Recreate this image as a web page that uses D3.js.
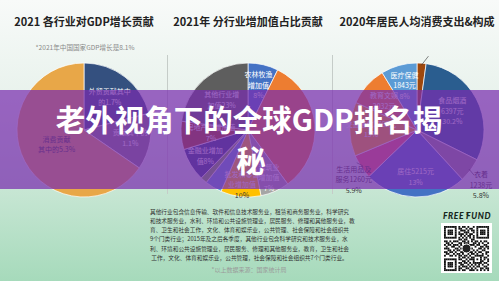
<!DOCTYPE html>
<html>
<head>
<meta charset="utf-8">
<script src="https://cdn.jsdelivr.net/npm/d3@7"></script>
<style>
  body { margin: 0; }
  svg { display: block; }
</style>
</head>
<body>
<div id="chart"></div>
<script>
// ---- data ----
var gdpCats = ["外贸", "投资", "消费"];
var gdpValues = [1.7, 1.1, 5.3];
var gdpLabels = [["外贸贡献其中", "的1.7%"], ["贡献其中的", "1.1%"], ["消费贡献", "其中的5.3%"]];

var industryCats = ["农林牧渔", "工业", "建筑业", "批发和零售业", "交通运输", "住宿餐饮", "金融业", "房地产业", "其他行业"];
var industryValues = [7.3, 32.6, 7.0, 9.7, 4.1, 1.6, 8.0, 6.8, 22.9];
var industryLabels = [["农林牧渔", "增加值", "8%"], [], ["建筑业", "增加值", "7%"], ["批发和零售", "业增加值", "10%"], [], [], ["金融业增加", "值8%"], ["房地产业增加值", "7%"], ["其他行业增", "加值23%"]];

var spendCats = ["其他", "食品烟酒", "衣着", "居住", "生活用品及服务", "交通通信", "教育文娱", "医疗保健"];
var spendValues = [462, 6397, 1238, 5215, 1260, 2762, 2032, 1843];
var spendLabels = [["其他462元", "2.2%"], ["食品烟酒", "6397元", "30.2%"], ["衣着", "1238元", "5.8%"], ["居住5215元", "13%"], ["生活用品及", "服务1260元", "5.9%"], ["交通通信2762元", "13%"], ["教育文娱", "2032元"], ["医疗保健", "1843元", "8%"]];

var titles = ["2021 各行业对GDP增长贡献", "2021年 分行业增加值占比贡献", "2020年居民人均消费支出&构成"];
var noteLines = [
  "其他行业包含信息传输、软件和信息技术服务业，租赁和商务服务业，科学研究",
  "和技术服务业，水利、环境和公共设施管理业，居民服务、修理和其他服务业，教",
  "育、卫生和社会工作，文化、体育和娱乐业，公共管理、社会保障和社会组织共",
  "9个门类行业；2015年及之后各季度，其他行业包含科学研究和技术服务业，水",
  "利、环境和公共设施管理业，居民服务、修理和其他服务业，教育，卫生和社会",
  " 工作，文化、体育和娱乐业，公共管理，社会保障和社会组织共7个门类行业。"
];
var qrRows = [
  "1111111010110100101111111",
  "1000001011001011001000001",
  "1011101001110101101011101",
  "1011101010011100101011101",
  "1011101011101011001011101",
  "1000001001010110101000001",
  "1111111010101010101111111",
  "0000000011011001100000000",
  "1101011100110101011010110",
  "0110100011011100110101001",
  "1011011101001011101100110",
  "0100110010111010010011011",
  "1110001101100011000110101",
  "0011010110100010101001100",
  "1101101001100011010110011",
  "0110010110100101101001010",
  "1001101011011010011111001",
  "0000000010110101100010110",
  "1111111011001011101010101",
  "1000001000110100100011001",
  "1011101011011010111110110",
  "1011101001100101010101001",
  "1011101010111010101100110",
  "1000001011001101010011011",
  "1111111010110011101010101"
];

// ---- layout ----
var W = 499, H = 281;
var R = 67;
var font = "'Noto Sans CJK SC', 'Noto Sans', sans-serif";

var svg = d3.select("#chart").append("svg")
    .attr("width", W)
    .attr("height", H);

var defs = svg.append("defs");
var bg = defs.append("linearGradient").attr("id", "bg")
    .attr("x1", 0).attr("y1", 0).attr("x2", 0).attr("y2", 1);
bg.append("stop").attr("offset", "0%").attr("stop-color", "#f8faf9");
bg.append("stop").attr("offset", "35%").attr("stop-color", "#e8f2ec");
bg.append("stop").attr("offset", "100%").attr("stop-color", "#a6dabb");

svg.append("rect")
    .attr("width", W).attr("height", H)
    .attr("fill", "url(#bg)");

// titles
var titleX = [84, 248, 417];
svg.selectAll(".title")
    .data(titles)
    .enter()
    .append("text")
    .attr("class", "title")
    .attr("x", function(d, i) { return titleX[i]; })
    .attr("y", 26)
    .attr("text-anchor", "middle")
    .attr("font-family", font)
    .attr("font-weight", 700)
    .attr("font-size", 11)
    .attr("fill", "#222")
    .text(function(d) { return d; });

svg.append("text")
    .attr("x", 85).attr("y", 50)
    .attr("text-anchor", "middle")
    .attr("font-family", font)
    .attr("font-size", 6.6)
    .attr("fill", "#8a8a8a")
    .text("*2021年中国国家GDP增长是8.1%");

// dividers
[167.5, 332.5].forEach(function(x) {
    svg.append("line")
        .attr("x1", x).attr("x2", x)
        .attr("y1", 55).attr("y2", 194)
        .attr("stroke", "#c5ccc8")
        .attr("stroke-width", 1);
});

var pie = d3.pie().sort(null).value(function(d) { return d; });
var arc = d3.arc().innerRadius(0).outerRadius(R);

function multiLine(g, x, y, lines, color, lh) {
    var top = y - (lines.length - 1) * lh / 2;
    lines.forEach(function(s, k) {
        g.append("text")
            .attr("x", x)
            .attr("y", top + k * lh + 2.5)
            .attr("text-anchor", "middle")
            .attr("font-family", font)
            .attr("font-size", 7)
            .attr("fill", Array.isArray(color) ? color[k] : color)
            .text(s);
    });
}

function drawPie(cx, cy, values, colors, labels, labelR, labelColors) {
    var g = svg.append("g").attr("transform", "translate(" + cx + "," + cy + ")");
    var arcs = pie(values);
    g.selectAll("path")
        .data(arcs)
        .enter()
        .append("path")
        .attr("d", arc)
        .attr("fill", function(d, i) { return colors[i]; })
        .attr("stroke", "#ffffff")
        .attr("stroke-width", 0.7);
    arcs.forEach(function(d, i) {
        if (!labels[i].length || labelR[i] == null) return;
        var c = d3.arc().innerRadius(labelR[i]).outerRadius(labelR[i]).centroid(d);
        multiLine(g, c[0], c[1], labels[i], labelColors[i], 10.5);
    });
    return {g: g, arcs: arcs};
}

// pie 1
drawPie(84, 130, gdpValues,
    ["#34507f", "#7f7f7f", "#e8a748"],
    gdpLabels,
    [42, 47, 31],
    ["#fff", "#fff", "#333"]);

// pie 2
drawPie(248, 130, industryValues,
    ["#4472c4", "#ed7d31", "#a5a5a5", "#ffc000", "#5b9bd5", "#70ad47", "#264478", "#9e480e", "#5e5e5e"],
    industryLabels,
    [46, null, 52, 55, null, null, 50, 37, 40],
    ["#fff", "#fff", "#fff", ["#fff", "#fff", "#333"], "#fff", "#fff", "#fff", "#fff", "#fff"]);

// pie 3
var p3 = drawPie(417, 130, spendValues,
    ["#9e480e", "#2a5d8f", "#8c8c8c", "#4472c4", "#f06262", "#ffb000", "#ed7d31", "#5b9bd5"],
    spendLabels,
    [null, 40, null, 47, null, 46, 44, 46],
    ["#333", "#fff", "#333", "#fff", "#333", "#fff", "#fff", "#fff"]);

// outside labels of pie 3 with leader lines
var outside = [
    {i: 0, lead: [7, -9], text: [20, -74]},
    {i: 2, lead: [5, 6], text: [12, 16]},
    {i: 4, lead: [-6, -3], text: [-9, 14]}
];
outside.forEach(function(o) {
    var d = p3.arcs[o.i];
    var pt = d3.arc().innerRadius(R - 2).outerRadius(R - 2).centroid(d);
    p3.g.append("line")
        .attr("x1", pt[0]).attr("y1", pt[1])
        .attr("x2", pt[0] + o.lead[0]).attr("y2", pt[1] + o.lead[1])
        .attr("stroke", "#333").attr("stroke-width", 0.6);
    multiLine(p3.g, pt[0] + o.text[0], pt[1] + o.text[1], spendLabels[o.i], "#333", 10.5);
});

// notes
svg.selectAll(".note")
    .data(noteLines)
    .enter()
    .append("text")
    .attr("class", "note")
    .attr("x", 150)
    .attr("y", function(d, i) { return 213.5 + i * 9.3; })
    .attr("font-family", font)
    .attr("font-size", 5.7)
    .attr("fill", "#333")
    .attr("xml:space", "preserve")
    .text(function(d) { return d; });

svg.append("text")
    .attr("x", 249).attr("y", 271.5)
    .attr("text-anchor", "middle")
    .attr("font-family", font)
    .attr("font-size", 6)
    .attr("fill", "#9a9a9a")
    .text("*以上数据来源：国家统计局");

// logo
var logoFont = "Lato, 'DejaVu Sans', sans-serif";
svg.append("text")
    .attr("x", 443).attr("y", 219)
    .attr("font-family", logoFont)
    .attr("font-weight", 900)
    .attr("font-style", "italic")
    .attr("font-size", 8.5)
    .attr("letter-spacing", 0.6)
    .attr("fill", "#16261d")
    .text("FREE");
svg.append("text")
    .attr("x", 466).attr("y", 215)
    .attr("font-family", logoFont)
    .attr("font-weight", 900)
    .attr("font-size", 4.5)
    .attr("fill", "#16261d")
    .text("$");
svg.append("text")
    .attr("x", 491).attr("y", 219)
    .attr("text-anchor", "end")
    .attr("font-family", logoFont)
    .attr("font-weight", 900)
    .attr("font-style", "italic")
    .attr("font-size", 8.5)
    .attr("letter-spacing", 0.6)
    .attr("fill", "#16261d")
    .text("FUND");

// QR code
var qx = 441, qy = 223, qs = 51;
svg.append("rect").attr("x", qx).attr("y", qy).attr("width", qs).attr("height", qs - 1).attr("fill", "#fff");
var cell = (qs - 6) / qrRows.length;
qrRows.forEach(function(row, r) {
    row.split("").forEach(function(ch, c) {
        if (ch === "1") {
            svg.append("rect")
                .attr("x", qx + 3 + c * cell)
                .attr("y", qy + 3 + r * cell)
                .attr("width", cell + 0.05)
                .attr("height", cell + 0.05)
                .attr("fill", "#111");
        }
    });
});
svg.append("circle").attr("cx", qx + qs / 2).attr("cy", qy + qs / 2).attr("r", 4.5)
    .attr("fill", "#222").attr("stroke", "#fff").attr("stroke-width", 1);

// purple banner overlay and headline
svg.append("rect")
    .attr("x", 0).attr("y", 90)
    .attr("width", W).attr("height", 99)
    .attr("fill", "rgb(120,45,175)")
    .attr("fill-opacity", 0.72);

svg.append("text")
    .attr("x", 249).attr("y", 131)
    .attr("text-anchor", "middle")
    .attr("font-family", font)
    .attr("font-weight", 700)
    .attr("font-size", 29.5)
    .attr("fill", "#fff")
    .text("老外视角下的全球GDP排名揭");
svg.append("text")
    .attr("x", 251).attr("y", 172)
    .attr("text-anchor", "middle")
    .attr("font-family", font)
    .attr("font-weight", 700)
    .attr("font-size", 29.5)
    .attr("fill", "#fff")
    .text("秘");
</script>
</body>
</html>
